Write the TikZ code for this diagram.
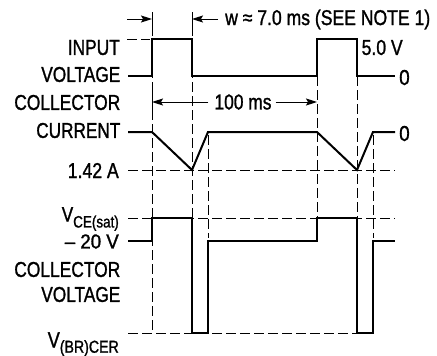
\documentclass[tikz,border=0pt]{standalone}
\usepackage{fontspec}
\usepackage{graphicx}
\setmainfont{Liberation Sans}[FakeStretch=0.82,FakeBold=1.2]
\usetikzlibrary{arrows.meta}
\newcommand{\lab}[3]{\resizebox{#1pt}{#2pt}{#3}}
\begin{document}
\begin{tikzpicture}[x=1pt,y=-1pt,
  trace/.style={line width=2pt, line join=miter},
  guide/.style={line width=0.9pt, dash pattern=on 10pt off 4pt},
  dim/.style={line width=1pt},
  arr/.style={dim, -{Stealth[length=11pt,width=7pt,inset=2pt]}},
  lbl/.style={font=\fontsize{21}{21}\selectfont, inner sep=0pt}]
\useasboundingbox (0,0) rectangle (437,356);
% guides
\draw[guide] (152,12) -- (152,333);
\draw[guide] (192,12) -- (192,333);
\draw[guide] (208,135) -- (208,238);
\draw[guide] (317,76) -- (317,218);
\draw[guide] (357,76) -- (357,333);
\draw[guide] (373,135) -- (373,238);
\draw[guide] (127,39) -- (150,39);
\draw[guide] (128,170) -- (395,170);
\draw[guide] (128,218) -- (395,218);
\draw[guide] (128,333) -- (357,333);
% dimensions
\draw[dim] (152,12) -- (152,32);
\draw[dim] (192,12) -- (192,32);
\draw[arr] (127,19) -- (152,19);
\draw[arr] (218,19) -- (192,19);
\node[lbl, anchor=west] (wlbl) at (225,19.5) {\resizebox{205pt}{!}{w ≈ 7.0 ms (SEE NOTE 1)}};
\draw[dim] (152,92) -- (152,112);
\node[lbl] (hund) at (243,102) {\lab{57}{15}{100 ms}};
\draw[arr] (hund.west) ++(-6,0) -- (152,102);
\draw[arr] (hund.east) ++(4,0) -- (317,102);
% traces
\draw[trace] (128,76) -- (152,76) -- (152,39) -- (192,39) -- (192,76) -- (317,76) -- (317,39) -- (357,39) -- (357,76) -- (395,76);
\draw[trace] (128,132) -- (152,132) -- (192,170) -- (208,132) -- (317,132) -- (357,170) -- (373,132) -- (395,132);
\draw[trace] (128,241) -- (152,241) -- (152,218) -- (192,218) -- (192,333) -- (208,333) -- (208,241) -- (317,241) -- (317,218) -- (357,218) -- (357,333) -- (373,333) -- (373,241) -- (395,241);
% left labels
\node[lbl, anchor=east] (l1) at (120,47.5) {\lab{52}{15}{INPUT}};
\node[lbl, anchor=east] (l2) at (120.5,74.5) {\lab{79}{15}{VOLTAGE}};
\node[lbl, anchor=east] (l3) at (120.5,102.5) {\lab{106}{15}{COLLECTOR}};
\node[lbl, anchor=east] (l4) at (120.5,130.5) {\lab{84}{15}{CURRENT}};
\node[lbl, anchor=east] (l5) at (119,170.5) {\lab{51}{15}{1.42 A}};
\node[lbl, anchor=base east] (l6) at (119,221.5) {\resizebox{57pt}{!}{V\raisebox{-6pt}{\fontsize{16.5}{16.5}\selectfont CE(sat)}}};
\node[lbl, anchor=east] (l7) at (119,241.5) {\lab{54}{14}{-- 20 V}};
\node[lbl, anchor=east] (l8) at (120.5,269.5) {\lab{106}{15}{COLLECTOR}};
\node[lbl, anchor=east] (l9) at (120.5,294.5) {\lab{79}{15}{VOLTAGE}};
\node[lbl, anchor=base east] (l10) at (119,347.5) {\resizebox{71pt}{!}{V\raisebox{-5pt}{\fontsize{16.5}{16.5}\selectfont (BR)CER}}};
% right labels
\node[lbl, anchor=west] (r1) at (361.5,47.5) {\lab{41}{15}{5.0 V}};
\node[lbl, anchor=west] (r2) at (399,77.5) {\lab{10.5}{15}{0}};
\node[lbl, anchor=west] (r3) at (399,133.5) {\lab{10.5}{15}{0}};
\end{tikzpicture}
\end{document}
